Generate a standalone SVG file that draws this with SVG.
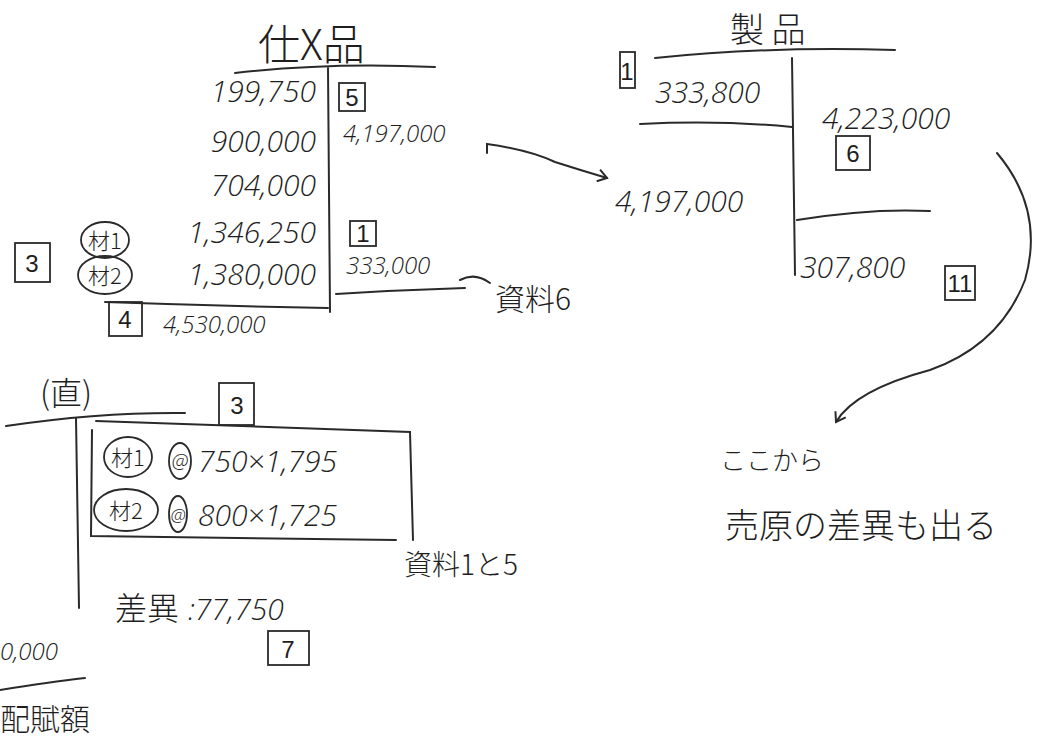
<svg xmlns="http://www.w3.org/2000/svg" width="1048" height="742" viewBox="0 0 1048 742">
<style>
.t{font-family:"Open Sans","Liberation Sans","Noto Sans CJK JP",sans-serif;font-style:italic;font-weight:300;fill:#1e1e1e;}
.j{font-family:"Noto Sans CJK JP",sans-serif;fill:#1e1e1e;font-weight:300;}
.n{font-size:30px;}
.s{font-size:24px;}
.ln{fill:none;stroke:#2a2a2a;stroke-width:2;stroke-linecap:round;}
.bx{fill:none;stroke:#2a2a2a;stroke-width:1.8;}
.bt{font-family:"Liberation Sans",sans-serif;font-size:24px;fill:#1e1e1e;text-anchor:middle;}
.ci{fill:none;stroke:#2a2a2a;stroke-width:1.8;}
</style>
<defs>
<marker id="ah" markerWidth="14" markerHeight="14" refX="10" refY="7" orient="auto" markerUnits="userSpaceOnUse">
<path d="M1,1 L10,7 L1,13" fill="none" stroke="#2a2a2a" stroke-width="2"/>
</marker>
</defs>
<rect width="1048" height="742" fill="#ffffff"/>

<g id="wip">
<text class="j" x="258" y="60" font-size="42">仕X品</text>
<path class="ln" d="M235,73 Q330,62 435,67"/>
<path class="ln" d="M328,68 L330,312"/>
<text class="t n" x="316" y="102" text-anchor="end">199,750</text>
<text class="t n" x="316" y="152" text-anchor="end">900,000</text>
<text class="t n" x="316" y="196" text-anchor="end">704,000</text>
<text class="t n" x="316" y="243" text-anchor="end">1,346,250</text>
<text class="t n" x="316" y="285" text-anchor="end">1,380,000</text>
<path class="ln" d="M105,302 Q220,306 328,308"/>
<rect class="bx" x="109" y="302" width="33" height="34"/>
<text class="bt" x="125" y="328">4</text>
<text class="t s" x="163" y="333">4,530,000</text>
<rect class="bx" x="15" y="243" width="35" height="39"/>
<text class="bt" x="32" y="272">3</text>
<ellipse class="ci" cx="105" cy="240" rx="24" ry="18"/>
<text class="j" x="105" y="249" font-size="22" text-anchor="middle">材1</text>
<ellipse class="ci" cx="105" cy="275" rx="27" ry="19"/>
<text class="j" x="105" y="284" font-size="22" text-anchor="middle">材2</text>
<rect class="bx" x="339" y="83" width="26" height="28"/>
<text class="bt" x="352" y="106">5</text>
<text class="t s" x="343" y="142">4,197,000</text>
<rect class="bx" x="350" y="221" width="26" height="25"/>
<text class="bt" x="363" y="242">1</text>
<text class="t s" x="346" y="274">333,000</text>
<path class="ln" d="M336,294 Q400,290 465,288"/>
<path class="ln" d="M460,280 Q475,272 490,283"/>
<text class="j" x="495" y="310" font-size="30">資料6</text>
</g>

<g id="product">
<text class="j" x="730" y="42" font-size="34">製 品</text>
<path class="ln" d="M655,58 Q770,46 895,50"/>
<path class="ln" d="M792,58 L795,275"/>
<rect class="bx" x="620" y="52" width="15" height="36"/>
<text class="bt" x="627" y="80" font-size="20">1</text>
<text class="t n" x="655" y="103">333,800</text>
<path class="ln" d="M640,124 Q720,120 792,127"/>
<text class="t n" x="615" y="212">4,197,000</text>
<text class="t n" x="822" y="129" font-size="32">4,223,000</text>
<rect class="bx" x="836" y="136" width="34" height="34"/>
<text class="bt" x="853" y="162">6</text>
<path class="ln" d="M797,220 Q870,208 930,211"/>
<text class="t n" x="800" y="278" font-size="32">307,800</text>
<rect class="bx" x="945" y="266" width="30" height="34"/>
<text class="bt" x="960" y="292">11</text>
</g>

<g id="direct">
<text class="j" x="40" y="405" font-size="32">(直)</text>
<path class="ln" d="M6,426 Q100,412 185,413"/>
<path class="ln" d="M76,418 L79,608"/>
<rect class="bx" x="219" y="383" width="35" height="42"/>
<text class="bt" x="237" y="414">3</text>
<path class="ln" d="M96,421 Q250,426 410,432 L413,540"/>
<path class="ln" d="M92,430 L91,536 Q240,538 396,540"/>
<ellipse class="ci" cx="128" cy="457" rx="24" ry="20"/>
<text class="j" x="128" y="466" font-size="22" text-anchor="middle">材1</text>
<ellipse class="ci" cx="180" cy="461" rx="11" ry="18"/>
<text class="t" x="180" y="469" font-size="20" text-anchor="middle">@</text>
<text class="t n" x="198" y="472">750×1,795</text>
<ellipse class="ci" cx="126" cy="510" rx="32" ry="21"/>
<text class="j" x="126" y="519" font-size="22" text-anchor="middle">材2</text>
<ellipse class="ci" cx="178" cy="514" rx="9" ry="18"/>
<text class="t" x="178" y="522" font-size="18" text-anchor="middle">@</text>
<text class="t n" x="198" y="526">800×1,725</text>
<text class="j" x="404" y="575" font-size="28">資料1と5</text>
<text class="j" x="115" y="620" font-size="32">差異</text>
<text class="t n" x="188" y="620">:77,750</text>
<rect class="bx" x="268" y="631" width="41" height="34"/>
<text class="bt" x="288" y="658">7</text>
<text class="t s" x="0" y="660">0,000</text>
<path class="ln" d="M0,690 Q50,682 85,678"/>
<text class="j" x="0" y="730" font-size="30">配賦額</text>
</g>

<g id="note">
<text class="j" x="720" y="470" font-size="26">ここから</text>
<text class="j" x="725" y="538" font-size="34">売原の差異も出る</text>
</g>

<g id="connectors">
<path class="ln" d="M487,153 L487,144 Q530,150 555,162 Q580,170 607,178" marker-end="url(#ah)"/>
<path class="ln" d="M997,153 Q1045,210 1025,280 Q1000,345 930,370 Q855,390 836,422" marker-end="url(#ah)"/>
</g>
</svg>
